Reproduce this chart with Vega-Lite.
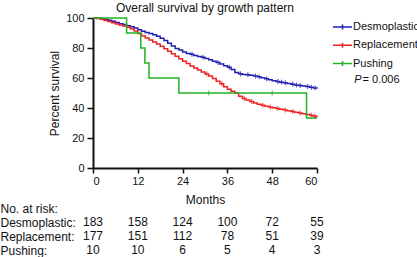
{
  "$schema": "https://vega.github.io/schema/vega-lite/v6.json",
  "padding": {"left": 0, "top": 1, "right": 0, "bottom": 0},
  "bounds": "flush",
  "spacing": 33,
  "config": {
    "font": "Liberation Sans",
    "view": {"stroke": null},
    "axis": {"grid": false, "labelColor": "#111", "titleColor": "#111", "domainColor": "#111", "tickColor": "#111", "titleFontWeight": "normal", "labelOverlap": false}
  },
  "datasets": {
    "curves": [
      {"group": "Desmoplastic", "month": 0, "pct": 100}, {"group": "Desmoplastic", "month": 1, "pct": 99.8}, {"group": "Desmoplastic", "month": 2, "pct": 99.5}, {"group": "Desmoplastic", "month": 3, "pct": 99}, {"group": "Desmoplastic", "month": 4, "pct": 98.5}, {"group": "Desmoplastic", "month": 5, "pct": 97.9}, {"group": "Desmoplastic", "month": 6, "pct": 97}, {"group": "Desmoplastic", "month": 7, "pct": 96.2}, {"group": "Desmoplastic", "month": 8, "pct": 95.6}, {"group": "Desmoplastic", "month": 9, "pct": 94.8}, {"group": "Desmoplastic", "month": 10, "pct": 94.1}, {"group": "Desmoplastic", "month": 11, "pct": 93.3}, {"group": "Desmoplastic", "month": 12, "pct": 92.2}, {"group": "Desmoplastic", "month": 13, "pct": 91.2}, {"group": "Desmoplastic", "month": 14, "pct": 90.4}, {"group": "Desmoplastic", "month": 15, "pct": 89.7}, {"group": "Desmoplastic", "month": 16, "pct": 88.9}, {"group": "Desmoplastic", "month": 17, "pct": 87.8}, {"group": "Desmoplastic", "month": 18, "pct": 86.5}, {"group": "Desmoplastic", "month": 19, "pct": 85}, {"group": "Desmoplastic", "month": 20, "pct": 83.2}, {"group": "Desmoplastic", "month": 21, "pct": 81.3}, {"group": "Desmoplastic", "month": 22, "pct": 79.6}, {"group": "Desmoplastic", "month": 23, "pct": 78.6}, {"group": "Desmoplastic", "month": 24, "pct": 77.3}, {"group": "Desmoplastic", "month": 25, "pct": 76.4}, {"group": "Desmoplastic", "month": 26, "pct": 75.9}, {"group": "Desmoplastic", "month": 27, "pct": 75}, {"group": "Desmoplastic", "month": 28, "pct": 74.3}, {"group": "Desmoplastic", "month": 29, "pct": 73.8}, {"group": "Desmoplastic", "month": 30, "pct": 73}, {"group": "Desmoplastic", "month": 31, "pct": 72.2}, {"group": "Desmoplastic", "month": 32, "pct": 71.2}, {"group": "Desmoplastic", "month": 33, "pct": 70.3}, {"group": "Desmoplastic", "month": 34, "pct": 69.3}, {"group": "Desmoplastic", "month": 35, "pct": 68.2}, {"group": "Desmoplastic", "month": 36, "pct": 67.2}, {"group": "Desmoplastic", "month": 37, "pct": 65.6}, {"group": "Desmoplastic", "month": 38, "pct": 63.6}, {"group": "Desmoplastic", "month": 39, "pct": 62.8}, {"group": "Desmoplastic", "month": 40, "pct": 62.4}, {"group": "Desmoplastic", "month": 41, "pct": 62.1}, {"group": "Desmoplastic", "month": 42, "pct": 61.8}, {"group": "Desmoplastic", "month": 43, "pct": 61.3}, {"group": "Desmoplastic", "month": 44, "pct": 60.8}, {"group": "Desmoplastic", "month": 45, "pct": 60.2}, {"group": "Desmoplastic", "month": 46, "pct": 59.5}, {"group": "Desmoplastic", "month": 47, "pct": 58.8}, {"group": "Desmoplastic", "month": 48, "pct": 58.1}, {"group": "Desmoplastic", "month": 49, "pct": 57.6}, {"group": "Desmoplastic", "month": 50, "pct": 57.2}, {"group": "Desmoplastic", "month": 51, "pct": 56.8}, {"group": "Desmoplastic", "month": 52, "pct": 56.3}, {"group": "Desmoplastic", "month": 53, "pct": 55.9}, {"group": "Desmoplastic", "month": 54, "pct": 55.4}, {"group": "Desmoplastic", "month": 55, "pct": 55}, {"group": "Desmoplastic", "month": 56, "pct": 54.7}, {"group": "Desmoplastic", "month": 57, "pct": 54.3}, {"group": "Desmoplastic", "month": 58, "pct": 53.8}, {"group": "Desmoplastic", "month": 59, "pct": 53.4}, {"group": "Desmoplastic", "month": 60, "pct": 52.9},
      {"group": "Replacement", "month": 0, "pct": 100}, {"group": "Replacement", "month": 1, "pct": 99.6}, {"group": "Replacement", "month": 2, "pct": 99.1}, {"group": "Replacement", "month": 3, "pct": 98.4}, {"group": "Replacement", "month": 4, "pct": 97.6}, {"group": "Replacement", "month": 5, "pct": 96.8}, {"group": "Replacement", "month": 6, "pct": 96}, {"group": "Replacement", "month": 7, "pct": 95.4}, {"group": "Replacement", "month": 8, "pct": 94.7}, {"group": "Replacement", "month": 9, "pct": 93.9}, {"group": "Replacement", "month": 10, "pct": 92.9}, {"group": "Replacement", "month": 11, "pct": 91.4}, {"group": "Replacement", "month": 12, "pct": 89.6}, {"group": "Replacement", "month": 13, "pct": 88}, {"group": "Replacement", "month": 14, "pct": 86.6}, {"group": "Replacement", "month": 15, "pct": 85.3}, {"group": "Replacement", "month": 16, "pct": 84}, {"group": "Replacement", "month": 17, "pct": 82.6}, {"group": "Replacement", "month": 18, "pct": 81.2}, {"group": "Replacement", "month": 19, "pct": 79.5}, {"group": "Replacement", "month": 20, "pct": 77.8}, {"group": "Replacement", "month": 21, "pct": 76.2}, {"group": "Replacement", "month": 22, "pct": 74.5}, {"group": "Replacement", "month": 23, "pct": 72.8}, {"group": "Replacement", "month": 24, "pct": 71.2}, {"group": "Replacement", "month": 25, "pct": 69.6}, {"group": "Replacement", "month": 26, "pct": 68}, {"group": "Replacement", "month": 27, "pct": 66.7}, {"group": "Replacement", "month": 28, "pct": 65.3}, {"group": "Replacement", "month": 29, "pct": 64}, {"group": "Replacement", "month": 30, "pct": 62.6}, {"group": "Replacement", "month": 31, "pct": 61.3}, {"group": "Replacement", "month": 32, "pct": 59.6}, {"group": "Replacement", "month": 33, "pct": 57.9}, {"group": "Replacement", "month": 34, "pct": 56.1}, {"group": "Replacement", "month": 35, "pct": 54.2}, {"group": "Replacement", "month": 36, "pct": 52.5}, {"group": "Replacement", "month": 37, "pct": 51.2}, {"group": "Replacement", "month": 38, "pct": 49.8}, {"group": "Replacement", "month": 39, "pct": 47.8}, {"group": "Replacement", "month": 40, "pct": 46.3}, {"group": "Replacement", "month": 41, "pct": 45.3}, {"group": "Replacement", "month": 42, "pct": 44.3}, {"group": "Replacement", "month": 43, "pct": 43.3}, {"group": "Replacement", "month": 44, "pct": 42.5}, {"group": "Replacement", "month": 45, "pct": 41.8}, {"group": "Replacement", "month": 46, "pct": 41.2}, {"group": "Replacement", "month": 47, "pct": 40.6}, {"group": "Replacement", "month": 48, "pct": 40.1}, {"group": "Replacement", "month": 49, "pct": 39.6}, {"group": "Replacement", "month": 50, "pct": 39.1}, {"group": "Replacement", "month": 51, "pct": 38.7}, {"group": "Replacement", "month": 52, "pct": 38.2}, {"group": "Replacement", "month": 53, "pct": 37.7}, {"group": "Replacement", "month": 54, "pct": 37.2}, {"group": "Replacement", "month": 55, "pct": 36.7}, {"group": "Replacement", "month": 56, "pct": 36.2}, {"group": "Replacement", "month": 57, "pct": 35.7}, {"group": "Replacement", "month": 58, "pct": 35.1}, {"group": "Replacement", "month": 59, "pct": 34.5}, {"group": "Replacement", "month": 60, "pct": 33.8},
      {"group": "Pushing", "month": 0, "pct": 100}, {"group": "Pushing", "month": 9, "pct": 90}, {"group": "Pushing", "month": 12.8, "pct": 80}, {"group": "Pushing", "month": 13.9, "pct": 70}, {"group": "Pushing", "month": 15, "pct": 60}, {"group": "Pushing", "month": 23, "pct": 50}, {"group": "Pushing", "month": 57.2, "pct": 33.3}, {"group": "Pushing", "month": 60, "pct": 33.3}
    ],
    "censor": [
      {"group": "Desmoplastic", "month": 26.5, "pct": 75.9}, {"group": "Desmoplastic", "month": 29.5, "pct": 73.8}, {"group": "Desmoplastic", "month": 33.5, "pct": 70.3}, {"group": "Desmoplastic", "month": 36.5, "pct": 67.2}, {"group": "Desmoplastic", "month": 39.5, "pct": 62.8}, {"group": "Desmoplastic", "month": 41.5, "pct": 62.1}, {"group": "Desmoplastic", "month": 43.5, "pct": 61.3}, {"group": "Desmoplastic", "month": 44.5, "pct": 60.8}, {"group": "Desmoplastic", "month": 46.5, "pct": 59.5}, {"group": "Desmoplastic", "month": 49.5, "pct": 57.6}, {"group": "Desmoplastic", "month": 50.5, "pct": 57.2}, {"group": "Desmoplastic", "month": 51.5, "pct": 56.8}, {"group": "Desmoplastic", "month": 53.5, "pct": 55.9}, {"group": "Desmoplastic", "month": 54.5, "pct": 55.4}, {"group": "Desmoplastic", "month": 55.5, "pct": 55}, {"group": "Desmoplastic", "month": 57.5, "pct": 54.3}, {"group": "Desmoplastic", "month": 58.5, "pct": 53.8}, {"group": "Desmoplastic", "month": 59.5, "pct": 53.4},
      {"group": "Replacement", "month": 30.5, "pct": 62.6}, {"group": "Replacement", "month": 34.5, "pct": 56.1}, {"group": "Replacement", "month": 40.5, "pct": 46.3}, {"group": "Replacement", "month": 42.5, "pct": 44.3}, {"group": "Replacement", "month": 45.5, "pct": 41.8}, {"group": "Replacement", "month": 47.5, "pct": 40.6}, {"group": "Replacement", "month": 49.5, "pct": 39.6}, {"group": "Replacement", "month": 51.5, "pct": 38.7}, {"group": "Replacement", "month": 53.5, "pct": 37.7}, {"group": "Replacement", "month": 55.5, "pct": 36.7}, {"group": "Replacement", "month": 58.5, "pct": 35.1}, {"group": "Replacement", "month": 59.5, "pct": 34.5},
      {"group": "Pushing", "month": 31, "pct": 50}, {"group": "Pushing", "month": 48, "pct": 50}
    ],
    "risk": [
      {"group": "Desmoplastic:", "month": 0, "n": 183}, {"group": "Desmoplastic:", "month": 12, "n": 158}, {"group": "Desmoplastic:", "month": 24, "n": 124}, {"group": "Desmoplastic:", "month": 36, "n": 100}, {"group": "Desmoplastic:", "month": 48, "n": 72}, {"group": "Desmoplastic:", "month": 60, "n": 55},
      {"group": "Replacement:", "month": 0, "n": 177}, {"group": "Replacement:", "month": 12, "n": 151}, {"group": "Replacement:", "month": 24, "n": 112}, {"group": "Replacement:", "month": 36, "n": 78}, {"group": "Replacement:", "month": 48, "n": 51}, {"group": "Replacement:", "month": 60, "n": 39},
      {"group": "Pushing:", "month": 0, "n": 10}, {"group": "Pushing:", "month": 12, "n": 10}, {"group": "Pushing:", "month": 24, "n": 6}, {"group": "Pushing:", "month": 36, "n": 5}, {"group": "Pushing:", "month": 48, "n": 4}, {"group": "Pushing:", "month": 60, "n": 3}
    ]
  },
  "vconcat": [
    {
      "width": 224,
      "height": 150,
      "title": {"text": "Overall survival by growth pattern", "fontSize": 12, "fontWeight": "normal", "offset": -2.5, "anchor": "middle", "color": "#111"},
      "resolve": {"axis": {"x": "independent", "y": "independent"}},
      "layer": [
        {
          "data": {"name": "curves"},
          "mark": {"type": "line", "interpolate": "step-after", "strokeWidth": 1.5},
          "encoding": {
            "x": {"field": "month", "type": "quantitative", "scale": {"domain": [0, 60], "nice": false},
              "axis": {"values": [0, 12, 24, 36, 48, 60], "title": "Months", "titleFontSize": 12, "titlePadding": 8, "labelFontSize": 11, "labelPadding": 2, "tickSize": 5, "tickWidth": 1.5, "domainWidth": 2, "labelOverlap": false}},
            "y": {"field": "pct", "type": "quantitative", "scale": {"domain": [0, 100], "nice": false},
              "axis": {"values": [0, 20, 40, 60, 80, 100], "title": "Percent survival", "titleFontSize": 12, "titlePadding": 4, "labelFontSize": 11, "labelPadding": 3, "tickSize": 6, "tickWidth": 1.5, "domainWidth": 2, "labelOverlap": false}},
            "color": {"field": "group", "type": "nominal",
              "scale": {"domain": ["Desmoplastic", "Replacement", "Pushing"], "range": ["#2020b0", "#ee2222", "#22b322"]},
              "legend": {"orient": "none", "legendX": 243.5, "legendY": 3, "title": null, "symbolType": "M-1.9,0H1.9M0,-0.5V0.5", "symbolSize": 100, "symbolStrokeWidth": 1.5, "labelFontSize": 11, "labelOffset": 4.5, "rowPadding": 6.3, "padding": 0, "labelColor": "#111"}}
          }
        },
        {
          "data": {"name": "censor"},
          "mark": {"type": "tick", "orient": "vertical", "size": 5, "thickness": 1.2},
          "encoding": {
            "x": {"field": "month", "type": "quantitative", "axis": null},
            "y": {"field": "pct", "type": "quantitative", "axis": null},
            "color": {"field": "group", "type": "nominal", "legend": null}
          }
        },
        {
          "data": {"values": [{"label": "P"}]},
          "mark": {"type": "text", "fontStyle": "italic", "fontSize": 11, "align": "left", "baseline": "middle", "color": "#111"},
          "encoding": {"x": {"datum": 70, "axis": null}, "y": {"datum": 58.5, "axis": null}, "text": {"field": "label"}}
        },
        {
          "data": {"values": [{"label": "= 0.006"}]},
          "mark": {"type": "text", "fontSize": 11, "align": "left", "baseline": "middle", "color": "#111"},
          "encoding": {"x": {"datum": 72.2, "axis": null}, "y": {"datum": 58.5, "axis": null}, "text": {"field": "label"}}
        }
      ]
    },
    {
      "width": 224,
      "height": 56,
      "data": {"name": "risk"},
      "mark": {"type": "text", "fontSize": 12, "color": "#111"},
      "encoding": {
        "x": {"field": "month", "type": "quantitative", "scale": {"domain": [0, 60], "nice": false}, "axis": null},
        "y": {"field": "group", "type": "nominal", "scale": {"domain": ["No. at risk:", "Desmoplastic:", "Replacement:", "Pushing:"]},
          "axis": {"title": null, "labelAlign": "left", "labelPadding": 93, "ticks": false, "tickSize": 0, "domain": false, "labelFontSize": 12, "labelColor": "#111"}},
        "text": {"field": "n", "type": "nominal"}
      }
    }
  ]
}
